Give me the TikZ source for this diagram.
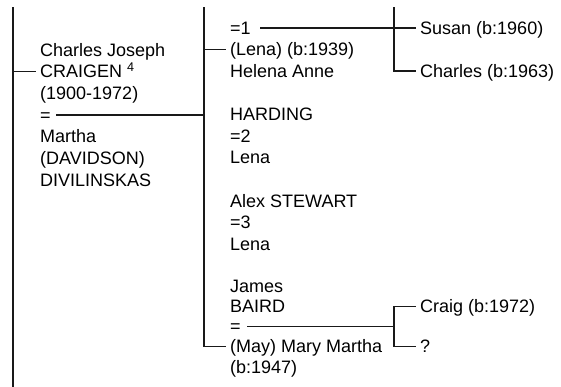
\documentclass[tikz,border=0pt]{standalone}
\usepackage{fontspec}
\setmainfont{Liberation Sans}
\begin{document}
\begin{tikzpicture}[x=1pt,y=-1pt,
  link/.style={line width=1.3pt, draw=black!90, line cap=rect},
  txt/.style={anchor=west, inner sep=0pt, font=\fontsize{18}{21.5}\selectfont,
              text height=12.9pt, text depth=0pt}]
\useasboundingbox (0,0) rectangle (561,386);

% trunk tops
\coordinate (tl) at (13,8);
\coordinate (bl) at (13,386);
\coordinate (tm) at (204,8);
\coordinate (tr) at (394,8);

% Charles Joseph CRAIGEN and Martha
\node[txt] (cj)  at (40,50)    {Charles Joseph};
\node[txt] (cr)  at (40,71.5)  {CRAIGEN \textsuperscript{4}};
\node[txt] (cby) at (40,93)    {(1900-1972)};
\node[txt] (eqa) at (40,115)   {=};
\node[txt] (ma)  at (40,136.5) {Martha};
\node[txt] (dav) at (40,158)   {(DAVIDSON)};
\node[txt] (div) at (40,180)   {DIVILINSKAS};

% children and their spouses
\node[txt] (eqb) at (230,28)    {=1};
\node[txt] (hl)  at (230,49.5)  {(Lena) (b:1939)};
\node[txt] (ha)  at (230,71)    {Helena Anne};
\node[txt] (hd)  at (230,114.5) {HARDING};
\node[txt] (eqc) at (230,136)   {=2};
\node[txt] (l2)  at (230,157.5) {Lena};
\node[txt] (as)  at (230,201)   {Alex STEWART};
\node[txt] (eqd) at (230,222.5) {=3};
\node[txt] (l3)  at (230,244)   {Lena};
\node[txt] (jb)  at (230,286.5) {James};
\node[txt] (ba)  at (230,306.5) {BAIRD};
\node[txt] (eqe) at (230,326.5) {=};
\node[txt] (mm)  at (230,346.5) {(May) Mary Martha};
\node[txt] (mb)  at (230,367.5) {(b:1947)};

% grandchildren
\node[txt] (su) at (420,28)    {Susan (b:1960)};
\node[txt] (ch) at (420,71)    {Charles (b:1963)};
\node[txt] (cg) at (420,306.5) {Craig (b:1972)};
\node[txt] (qq) at (420,346.5) {?};

% connectors
\draw[link] (tl) -- (bl);
\draw[link] (tl |- cr.west) -- ([xshift=-5pt]cr.west);
\draw[link] ([xshift=6pt]eqa.east) -- (tm |- eqa.east);
\draw[link] (tm) -- (tm |- mm.west) -- ([xshift=-5pt]mm.west);
\draw[link] (tm |- hl.west) -- ([xshift=-5pt]hl.west);
\draw[link] ([xshift=10pt]eqb.east) -- ([xshift=-5pt]su.west);
\draw[link] (tr) -- (tr |- ch.west) -- ([xshift=-5pt]ch.west);
\draw[link] ([xshift=7pt]eqe.east) -- (tr |- eqe.east);
\draw[link] ([xshift=-5pt]cg.west) -- (tr |- cg.west) -- (tr |- qq.west) -- ([xshift=-5pt]qq.west);
\end{tikzpicture}
\end{document}
